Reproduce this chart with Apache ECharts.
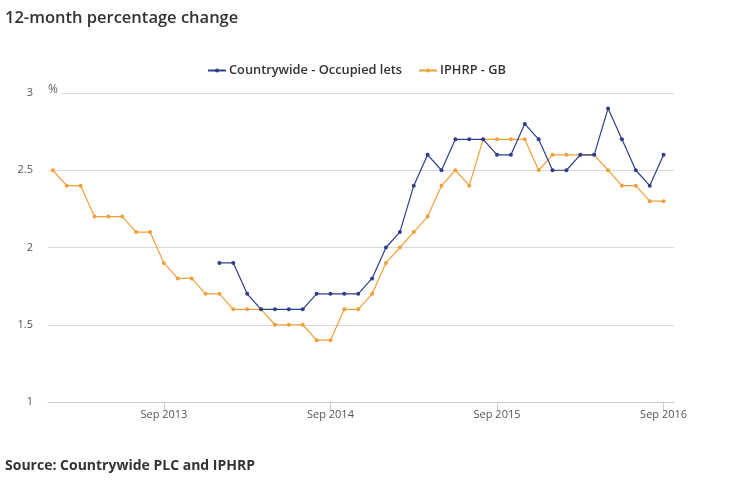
<!DOCTYPE html>
<html>
<head>
<meta charset="utf-8">
<script src="https://cdn.jsdelivr.net/npm/echarts@6/dist/echarts.min.js"></script>
<style>html,body{margin:0;padding:0;background:#fff;}#c{width:729px;height:484px;}</style>
</head>
<body>
<div id="c"></div>
<script>
// Months Jan 2013 .. Sep 2016
var months = ['Jan 2013','Feb 2013','Mar 2013','Apr 2013','May 2013','Jun 2013','Jul 2013','Aug 2013','Sep 2013','Oct 2013','Nov 2013','Dec 2013',
  'Jan 2014','Feb 2014','Mar 2014','Apr 2014','May 2014','Jun 2014','Jul 2014','Aug 2014','Sep 2014','Oct 2014','Nov 2014','Dec 2014',
  'Jan 2015','Feb 2015','Mar 2015','Apr 2015','May 2015','Jun 2015','Jul 2015','Aug 2015','Sep 2015','Oct 2015','Nov 2015','Dec 2015',
  'Jan 2016','Feb 2016','Mar 2016','Apr 2016','May 2016','Jun 2016','Jul 2016','Aug 2016','Sep 2016'];
var tickLabels = ['Sep 2013','Sep 2014','Sep 2015','Sep 2016'];
var countrywide = [null,null,null,null,null,null,null,null,null,null,null,null,
  1.9,1.9,1.7,1.6,1.6,1.6,1.6,1.7,1.7,1.7,1.7,1.8,
  2.0,2.1,2.4,2.6,2.5,2.7,2.7,2.7,2.6,2.6,2.8,2.7,
  2.5,2.5,2.6,2.6,2.9,2.7,2.5,2.4,2.6];
var iphrp = [2.5,2.4,2.4,2.2,2.2,2.2,2.1,2.1,1.9,1.8,1.8,1.7,
  1.7,1.6,1.6,1.6,1.5,1.5,1.5,1.4,1.4,1.6,1.6,1.7,
  1.9,2.0,2.1,2.2,2.4,2.5,2.4,2.7,2.7,2.7,2.7,2.5,
  2.6,2.6,2.6,2.6,2.5,2.4,2.4,2.3,2.3];
var yTicks = [1, 1.5, 2, 2.5, 3];

var tickIdx = tickLabels.map(function(l){ return months.indexOf(l); });
function pairs(arr){ return arr.map(function(v,i){ return [i, v]; }); }

var FONT = '"Open Sans", sans-serif';
var BLUE = '#2e3e8c', ORANGE = '#f0a03a';
var chart = echarts.init(document.getElementById('c'), null, {renderer:'canvas'});
chart.setOption({
  animation:false,
  backgroundColor:'#fff',
  title:{
    text:'12-month percentage change', left:5, top:10, padding:0,
    textStyle:{fontFamily:FONT, fontSize:16.5, fontWeight:600, color:'#333'}
  },
  legend:{
    top:64, left:207, itemWidth:18, itemHeight:5, itemGap:16, padding:0,
    textStyle:{fontFamily:FONT, fontSize:12.8, fontWeight:600, color:'#333', padding:[0,0,0,-2]},
    data:['Countrywide - Occupied lets','IPHRP - GB']
  },
  graphic:[
    {
      type:'text', left:5, top:459,
      style:{text:'Source: Countrywide PLC and IPHRP', font:'bold 14px "Open Sans", sans-serif', fill:'#333'}
    },
    {
      type:'text', left:47, top:84, z:100,
      style:{text:'%', font:'12px "Open Sans", sans-serif', fill:'#666', backgroundColor:'#fff', padding:[0,3,0,1]}
    }
  ],
  grid:{left:48, right:55, top:93, bottom:82, containLabel:false},
  xAxis:{
    type:'value', min:-0.35, max:44.75,
    splitLine:{show:false},
    axisLine:{show:true, lineStyle:{color:'#c6ccd4', width:1}},
    axisTick:{show:true, customValues:tickIdx, length:8, lineStyle:{color:'#c6ccd4'}},
    axisLabel:{
      customValues:tickIdx, margin:7,
      fontFamily:FONT, fontSize:11, color:'#555',
      formatter:function(v){ return months[Math.round(v)]; }
    }
  },
  yAxis:{
    type:'value', min:1, max:3, interval:0.5,
    axisLine:{show:false}, axisTick:{show:false},
    axisLabel:{margin:15, fontFamily:FONT, fontSize:11, color:'#555',
      formatter:function(v){ return yTicks.indexOf(v) >= 0 ? String(v) : ''; }},
    splitLine:{lineStyle:{color:'#d9d9d9', width:1}}
  },
  series:[
    {name:'Countrywide - Occupied lets', type:'line', data:pairs(countrywide),
     symbol:'circle', symbolSize:4, showSymbol:true, connectNulls:false,
     itemStyle:{color:BLUE}, lineStyle:{color:BLUE, width:1.2}, z:3},
    {name:'IPHRP - GB', type:'line', data:pairs(iphrp),
     symbol:'circle', symbolSize:4, showSymbol:true,
     itemStyle:{color:ORANGE}, lineStyle:{color:ORANGE, width:1.2}, z:2}
  ]
});
</script>
</body>
</html>
